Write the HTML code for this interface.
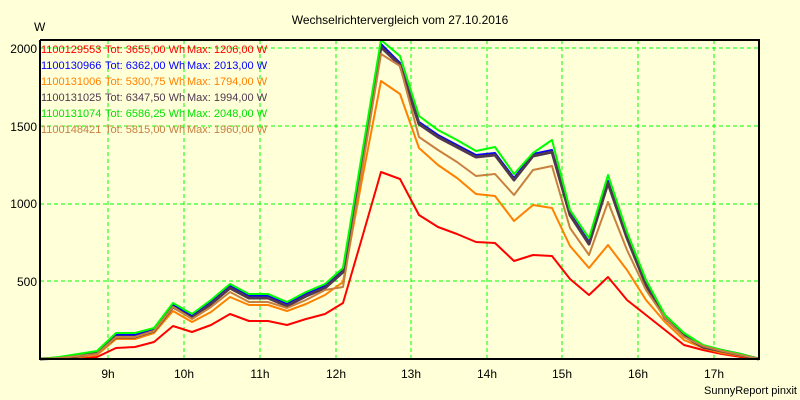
<!DOCTYPE html>
<html><head><meta charset="utf-8"><style>
body{margin:0;background:#ffffd8}
svg{display:block}
text{font-family:"Liberation Sans",sans-serif}
</style></head><body>
<svg width="800" height="400" xmlns="http://www.w3.org/2000/svg">
<rect width="800" height="400" fill="#ffffd8"/>
<text x="400" y="24" font-size="12" text-anchor="middle" fill="#000">Wechselrichtervergleich vom 27.10.2016</text>
<text x="34" y="31" font-size="12" fill="#000">W</text>
<g font-size="12" text-anchor="end" fill="#000">
<text x="37" y="53">2000</text><text x="37" y="131">1500</text><text x="37" y="208">1000</text><text x="37" y="286">500</text>
</g>
<g font-size="12" text-anchor="middle" fill="#000">
<text x="108" y="378">9h</text><text x="184" y="378">10h</text><text x="260" y="378">11h</text><text x="336" y="378">12h</text><text x="411" y="378">13h</text><text x="487" y="378">14h</text><text x="562" y="378">15h</text><text x="638" y="378">16h</text><text x="714" y="378">17h</text>
</g>
<text x="797" y="394" font-size="11" text-anchor="end" fill="#000">SunnyReport pinxit</text>
<g stroke="#00ff00" stroke-width="1" stroke-dasharray="4,3" fill="none">
<line x1="40" y1="48" x2="759" y2="48"/><line x1="40" y1="126" x2="759" y2="126"/><line x1="40" y1="204" x2="759" y2="204"/><line x1="40" y1="281" x2="759" y2="281"/>
<line x1="108" y1="40" x2="108" y2="359"/><line x1="184" y1="40" x2="184" y2="359"/><line x1="260" y1="40" x2="260" y2="359"/><line x1="336" y1="40" x2="336" y2="359"/><line x1="411" y1="40" x2="411" y2="359"/><line x1="487" y1="40" x2="487" y2="359"/><line x1="562" y1="40" x2="562" y2="359"/><line x1="638" y1="40" x2="638" y2="359"/><line x1="714" y1="40" x2="714" y2="359"/>
</g>
<g font-size="11">
<text y="53" fill="#ff0000"><tspan x="41">1100129553</tspan><tspan x="105">Tot: 3655,00 Wh</tspan><tspan x="187">Max: 1206,00 W</tspan></text>
<text y="69" fill="#0000ff"><tspan x="41">1100130966</tspan><tspan x="105">Tot: 6362,00 Wh</tspan><tspan x="187">Max: 2013,00 W</tspan></text>
<text y="85" fill="#ff8000"><tspan x="41">1100131006</tspan><tspan x="105">Tot: 5300,75 Wh</tspan><tspan x="187">Max: 1794,00 W</tspan></text>
<text y="101" fill="#503850"><tspan x="41">1100131025</tspan><tspan x="105">Tot: 6347,50 Wh</tspan><tspan x="187">Max: 1994,00 W</tspan></text>
<text y="117" fill="#00e000"><tspan x="41">1100131074</tspan><tspan x="105">Tot: 6586,25 Wh</tspan><tspan x="187">Max: 2048,00 W</tspan></text>
<text y="133" fill="#c88040"><tspan x="41">1100148421</tspan><tspan x="105">Tot: 5815,00 Wh</tspan><tspan x="187">Max: 1960,00 W</tspan></text>
</g>
<g fill="none" stroke-width="2" stroke-linejoin="round">
<polyline stroke="#ff0000" points="40,359 59,359 78,359 97,357 116,348 135,347 154,342 173,326 192,332 211,325 230,314 249,321 268,321 287,325 306,319 325,314 343,303 362,238 381,172 400,179 419,215 438,227 457,234 476,242 495,243 514,261 533,255 552,256 570,279 589,295 608,277 627,300 646,315 665,330 684,345 703,350 722,354 741,357 759,359"/>
<polyline stroke="#0000ff" points="40,359 59,358 78,355 97,353 116,335 135,335 154,329 173,305 192,316 211,302 230,286 249,296 268,296 287,304 306,294 325,286 343,270 362,157 381,44 400,63 419,122 438,135 457,145 476,155 495,153 514,178 533,154 552,150 570,213 589,242 608,181 627,236 646,284 665,317 684,335 703,346 722,350 741,354 759,359"/>
<polyline stroke="#ff8000" points="40,359 59,359 78,357 97,355 116,339 135,339 154,333 173,311 192,322 211,312 230,297 249,305 268,305 287,311 306,304 325,295 343,282 362,180 381,81 400,94 419,148 438,165 457,178 476,194 495,196 514,221 533,205 552,208 570,246 589,268 608,245 627,270 646,300 665,322 684,340 703,348 722,353 741,356 759,359"/>
<polyline stroke="#503850" stroke-width="3" points="40,359 59,358 78,356 97,353 116,337 135,337 154,331 173,307 192,318 211,304 230,288 249,298 268,298 287,306 306,296 325,288 343,272 362,160 381,47 400,65 419,124 438,137 457,147 476,157 495,155 514,180 533,156 552,152 570,215 589,244 608,183 627,238 646,285 665,318 684,336 703,347 722,351 741,355 759,359"/>
<polyline stroke="#00ff00" points="40,359 59,357 78,354 97,351 116,333 135,333 154,328 173,303 192,314 211,300 230,284 249,294 268,294 287,302 306,292 325,284 343,268 362,154 381,40 400,56 419,116 438,130 457,140 476,151 495,147 514,174 533,153 552,140 570,210 589,238 608,175 627,232 646,280 665,315 684,333 703,345 722,350 741,354 759,359"/>
<polyline stroke="#c88040" points="40,359 59,358 78,356 97,354 116,337 135,337 154,331 173,307 192,319 211,307 230,292 249,302 268,302 287,308 306,300 325,290 343,287 362,170 381,54 400,66 419,137 438,150 457,162 476,176 495,174 514,195 533,170 552,166 570,228 589,255 608,202 627,250 646,290 665,318 684,337 703,346 722,351 741,355 759,359"/>
</g>
<polyline fill="none" stroke="#000" stroke-width="2" points="40,40 40,359 759,359 759,40 40,40" stroke-linejoin="miter"/>
</svg>
</body></html>
